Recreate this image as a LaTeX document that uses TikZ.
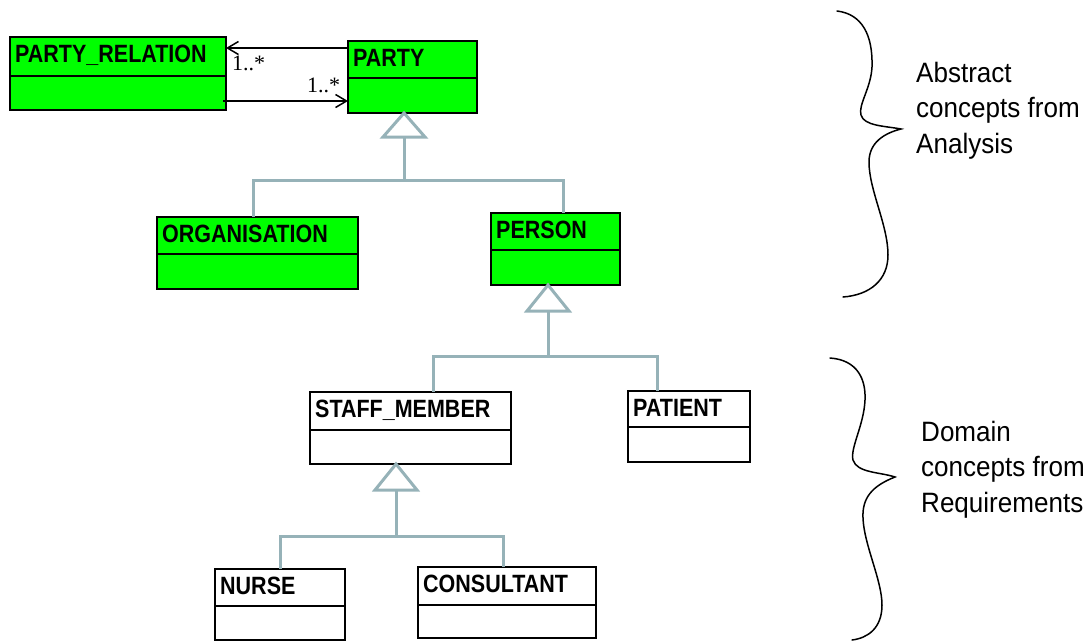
\documentclass[tikz,border=0pt]{standalone}
\usepackage{fontspec}
\setmainfont{Liberation Sans}
\newfontfamily\boxfont{Liberation Sans}[FakeStretch=0.86]
\newfontfamily\notefont{Liberation Sans}[FakeStretch=0.93]
\newfontfamily\multfont{Liberation Serif}
\usetikzlibrary{arrows.meta}

\definecolor{classgreen}{RGB}{0,255,0}
\definecolor{genblue}{RGB}{150,178,184}

\tikzset{
  classframe/.style={draw=black, line width=2.4pt, inner sep=0pt, outer sep=0pt},
  classdivider/.style={draw=black, line width=2.4pt},
  classlabel/.style={inner sep=0pt, font=\boxfont\bfseries\fontsize{25}{28}\selectfont},
  genline/.style={draw=genblue, line width=3pt},
  gentri/.style={draw=genblue, line width=3pt, fill=white, line join=miter},
  assoc/.style={draw=black, line width=1.8pt,
    -{Straight Barb[length=11pt, width=13pt, line width=1.5pt]}},
  multlabel/.style={inner sep=0pt, font=\multfont\fontsize{22}{24}\selectfont},
  brace/.style={draw=black, line width=1.5pt, line cap=round},
  notetext/.style={inner sep=0pt, align=left,
    font=\notefont\fontsize{28}{35.5}\selectfont}
}

% name, fill, x, y, width, height, title height, label
\newcommand\umlclass[8]{%
  \node[classframe, fill=#2, minimum width=#5pt, minimum height=#6pt,
        anchor=north west] (#1) at (#3,#4) {};
  \draw[classdivider] ([yshift=-#7pt]#1.north west) -- ([yshift=-#7pt]#1.north east);
  \node[classlabel, anchor=base west] (#1-label)
        at ([xshift=5pt, yshift=-25pt]#1.north west) {#8};
}

\begin{document}
\begin{tikzpicture}[x=1pt, y=-1pt]
  \useasboundingbox (0,0) rectangle (1090,641);

  % classes
  \umlclass{partyrel}{classgreen}{10}{37}{216}{73}{39}{PARTY\_RELATION}
  \umlclass{party}{classgreen}{348}{41}{129}{72}{37}{PARTY}
  \umlclass{organisation}{classgreen}{157}{217}{201}{72}{37}{ORGANISATION}
  \umlclass{person}{classgreen}{491}{213}{129}{72}{37}{PERSON}
  \umlclass{staff}{white}{310}{392}{201}{72}{38}{STAFF\_MEMBER}
  \umlclass{patient}{white}{628}{391}{122}{71}{36}{PATIENT}
  \umlclass{nurse}{white}{215}{569}{130}{71}{37}{NURSE}
  \umlclass{consultant}{white}{418}{567}{178}{71}{38}{CONSULTANT}

  % associations between PARTY and PARTY_RELATION
  \draw[assoc] ([yshift=-7pt]party.north west) -- ([yshift=-11pt]partyrel.north east);
  \draw[assoc] ([xshift=-3pt, yshift=-64pt]partyrel.north east) -- ([yshift=-60pt]party.north west);
  \node[multlabel, anchor=base west] (m1) at (232,70) {1..*};
  \node[multlabel, anchor=base west] (m2) at (307,92) {1..*};

  % generalisation: ORGANISATION, PERSON -> PARTY
  \coordinate (g1) at ([xshift=56pt]party.south west);
  \coordinate (j1) at (404,180);
  \draw[genline] (g1) ++(0,22) -- (j1);
  \draw[genline] ([xshift=96pt]organisation.north west) |- (j1)
                 -| ([xshift=72pt]person.north west);
  \draw[gentri] (g1) -- ++(-21,24) -- ++(42,0) -- cycle;

  % generalisation: STAFF_MEMBER, PATIENT -> PERSON
  \coordinate (g2) at ([xshift=57pt]person.south west);
  \coordinate (j2) at (548,356);
  \draw[genline] (g2) ++(0,22) -- (j2);
  \draw[genline] ([xshift=123pt]staff.north west) |- (j2)
                 -| ([xshift=29pt]patient.north west);
  \draw[gentri] (g2) -- ++(-21,26) -- ++(42,0) -- cycle;

  % generalisation: NURSE, CONSULTANT -> STAFF_MEMBER
  \coordinate (g3) at ([xshift=86pt]staff.south west);
  \coordinate (j3) at (396,536);
  \draw[genline] (g3) ++(0,22) -- (j3);
  \draw[genline] ([xshift=65pt]nurse.north west) |- (j3)
                 -| ([xshift=85pt]consultant.north west);
  \draw[gentri] (g3) -- ++(-21,26) -- ++(42,0) -- cycle;

  % braces
  \draw[brace] (837,11) .. controls (862,14) and (873,35) .. (872,67)
    .. controls (871,88) and (858,105) .. (861,115)
    .. controls (864,126) and (885,126) .. (901,129)
    .. controls (885,133) and (869,142) .. (869,162)
    .. controls (869,190) and (888,225) .. (888,255)
    .. controls (888,280) and (870,295) .. (843,297);
  \draw[brace] (830,358) .. controls (858,360) and (866,380) .. (865,400)
    .. controls (864,425) and (850,448) .. (853,460)
    .. controls (857,473) and (880,472) .. (895,477)
    .. controls (872,486) and (862,498) .. (863,518)
    .. controls (864,545) and (882,580) .. (882,605)
    .. controls (882,628) and (868,638) .. (852,640);

  % notes (anchored on the baseline of their last line)
  \node[notetext, anchor=base west] (abstract) at (916,153)
    {Abstract\\concepts from\\Analysis};
  \node[notetext, anchor=base west] (domain) at (921,512)
    {Domain\\concepts from\\Requirements};
\end{tikzpicture}
\end{document}
